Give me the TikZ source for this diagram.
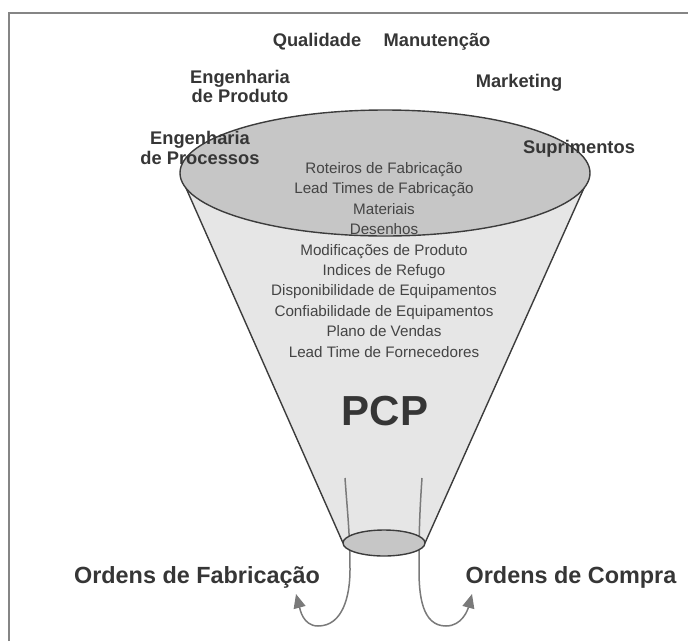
\documentclass[tikz,border=0pt]{standalone}
\usepackage{fontspec}
\setmainfont{Liberation Sans}
\usetikzlibrary{arrows.meta}

\definecolor{framegray}{HTML}{858585}
\definecolor{bodyfill}{HTML}{E6E6E6}
\definecolor{mouthfill}{HTML}{C6C6C6}
\definecolor{edgegray}{HTML}{3C3C3C}
\definecolor{labelgray}{HTML}{363636}
\definecolor{itemgray}{HTML}{444444}
\definecolor{flowgray}{HTML}{7A7A7A}

\begin{document}
\begin{tikzpicture}[x=1pt, y=-1pt,
  dept/.style={font=\fontsize{18.3}{19.8}\selectfont\bfseries, text=labelgray,
               align=center, inner sep=0pt},
  item/.style={font=\fontsize{15.2}{18}\selectfont, text=itemgray,
               inner sep=0pt, anchor=base},
  order/.style={font=\fontsize{23.4}{28}\selectfont\bfseries, text=labelgray,
                inner sep=0pt, anchor=base},
  rim/.style={draw=edgegray, line width=1.4pt},
  flow/.style={draw=flowgray, line width=1.5pt,
               -{Triangle[length=14pt, width=12pt]}, fill=none}
]
\useasboundingbox (0,0) rectangle (688,641);

% frame: top and left rules only
\draw[framegray, line width=2pt] (9,641) -- (9,13) -- (688,13);

% anchor points of the funnel
\coordinate (topc) at (385,173);
\coordinate (botc) at (384,543);
\coordinate (tl) at (186,188);
\coordinate (tr) at (584,188);
\coordinate (bl) at (343,543);
\coordinate (br) at (425,543);

% funnel body
\fill[bodyfill] (tl) -- (tr) -- (br) -- (bl) -- cycle;
\draw[rim] (tl) -- (bl);
\draw[rim] (tr) -- (br);

% wide mouth
\draw[rim, fill=mouthfill] (topc) ellipse [x radius=205pt, y radius=63pt];

% outflow curves
\coordinate (lstart) at (345,478);
\coordinate (lend) at (296,594);
\coordinate (rstart) at (422,478);
\coordinate (rend) at (472,594);
\draw[flow] (lstart) to[out=-86, in=90] (350,570) to[out=-90, in=0] (318,626)
            to[out=180, in=-75] (lend);
\draw[flow] (rstart) to[out=-94, in=90] (419,570) to[out=-90, in=180] (446,626)
            to[out=0, in=-105] (rend);

% narrow outlet
\draw[rim, fill=mouthfill] (botc) ellipse [x radius=41pt, y radius=13pt];

% departments feeding the funnel
\node[dept, anchor=base] (qual) at (317,46.5) {Qualidade};
\node[dept, anchor=base] (manut) at (437,46.5) {Manutenção};
\node[dept] (engprod) at (240,86.5) {Engenharia\\de Produto};
\node[dept, anchor=base] (mkt) at (519,87.5) {Marketing};
\node[dept] (engproc) at (200,148) {Engenharia\\de Processos};
\node[dept, anchor=base] (supr) at (579,153.5) {Suprimentos};

% information carried into planning
\foreach \txt [count=\i from 0] in {Roteiros de Fabricação,
    Lead Times de Fabricação, Materiais, Desenhos, Modificações de Produto,
    Indices de Refugo, Disponibilidade de Equipamentos,
    Confiabilidade de Equipamentos, Plano de Vendas,
    Lead Time de Fornecedores}
  \node[item] (info\i) at (384,173.5+20.4*\i) {\txt};

\node[font=\fontsize{42}{46}\selectfont\bfseries, text=labelgray,
      inner sep=0pt, anchor=base] (pcp) at (385,425) {PCP};

% resulting orders
\node[order] (ofab) at (197,583.5) {Ordens de Fabricação};
\node[order] (ocomp) at (571,583.5) {Ordens de Compra};
\end{tikzpicture}
\end{document}
